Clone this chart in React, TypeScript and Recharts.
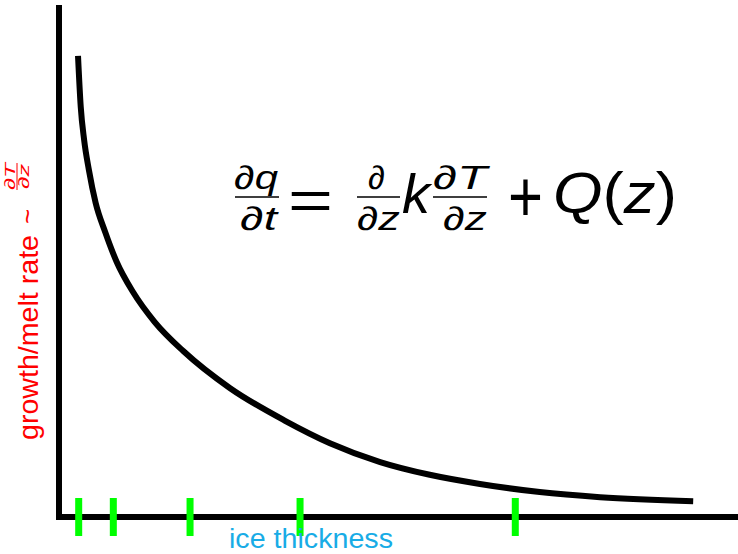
import { ComposedChart, Line, Scatter, XAxis, YAxis, ReferenceLine } from 'recharts';

// ice thickness (arbitrary units) vs growth/melt rate
const thickness = [0.28, 0.32, 0.37, 0.44, 0.54, 0.68, 0.85, 1.09, 1.41, 1.83, 2.52, 3.33, 3.99, 4.73, 5.46, 6.2, 7.08, 7.97, 9.34];
const rate = [9.06, 8.06, 7.41, 6.82, 6.17, 5.6, 5.01, 4.42, 3.83, 3.26, 2.53, 1.89, 1.45, 1.08, 0.83, 0.65, 0.49, 0.39, 0.31];

// sample thicknesses marked along the axis
const markers = [0.29, 0.8, 1.93, 3.55, 6.72];

const curve = thickness.map((x, i) => ({ x, y: rate[i] }));
const markerData = markers.map((x) => ({ x, y: 0 }));

const FONT = '"Liberation Sans", Arial, Helvetica, sans-serif';

const Marker = (props: any) => (
    <rect x={props.cx - 3.5} y={props.cy - 19} width={7} height={38} fill="#00ff00" />
);

function Equation() {
    const num = 189;
    const den = 230;
    const bar = 197;
    return (
        <g fontFamily={FONT} fill="#000">
            {/* dq/dt */}
            <text x={234} y={num} fontSize={33} textLength={44} lengthAdjust="spacingAndGlyphs">
                ∂<tspan fontStyle="italic">q</tspan>
            </text>
            <rect x={235} y={bar - 0.75} width={44} height={1.5} />
            <text x={240} y={den} fontSize={33} textLength={37} lengthAdjust="spacingAndGlyphs">
                ∂<tspan fontStyle="italic">t</tspan>
            </text>
            <text x={288} y={219} fontSize={56} textLength={45} lengthAdjust="spacingAndGlyphs">=</text>
            {/* d/dz k dT/dz */}
            <text x={368} y={num} fontSize={33} textLength={17} lengthAdjust="spacingAndGlyphs">∂</text>
            <rect x={357} y={bar - 0.75} width={43} height={1.5} />
            <text x={357} y={den} fontSize={33} textLength={43} lengthAdjust="spacingAndGlyphs">
                ∂<tspan fontStyle="italic">z</tspan>
            </text>
            <text x={402} y={213} fontSize={56} fontStyle="italic" textLength={28} lengthAdjust="spacingAndGlyphs">k</text>
            <text x={433} y={num} fontSize={33} textLength={54} lengthAdjust="spacingAndGlyphs">
                ∂<tspan fontStyle="italic">T</tspan>
            </text>
            <rect x={433} y={bar - 0.75} width={54} height={1.5} />
            <text x={443} y={den} fontSize={33} textLength={44} lengthAdjust="spacingAndGlyphs">
                ∂<tspan fontStyle="italic">z</tspan>
            </text>
            <text x={508} y={221} fontSize={72} textLength={35} lengthAdjust="spacingAndGlyphs">+</text>
            <text x={553} y={213} fontSize={58} textLength={124} lengthAdjust="spacingAndGlyphs">
                <tspan fontStyle="italic">Q</tspan>(<tspan fontStyle="italic">z</tspan>)
            </text>
        </g>
    );
}

function Labels() {
    return (
        <g fontFamily={FONT}>
            <g transform="translate(38, 440) rotate(-90)" fill="#ff0000">
                <text x={0} y={0} fontSize={28} textLength={205} lengthAdjust="spacingAndGlyphs">
                    growth/melt rate
                </text>
                <text x={216} y={-2} fontSize={26}>~</text>
                <text x={250} y={-23} fontSize={15} textLength={27} lengthAdjust="spacingAndGlyphs">
                    ∂<tspan fontStyle="italic">T</tspan>
                </text>
                <rect x={250} y={-21.5} width={27} height={1} />
                <text x={251} y={-9} fontSize={15} textLength={25} lengthAdjust="spacingAndGlyphs">
                    ∂<tspan fontStyle="italic">z</tspan>
                </text>
            </g>
            <text x={229} y={548} fontSize={27} fill="#18ace6" textLength={164} lengthAdjust="spacingAndGlyphs">
                ice thickness
            </text>
        </g>
    );
}

export default function App() {
    return (
        <div style={{ position: 'absolute', left: 0, top: 0, width: 738, height: 554, background: '#fff' }}>
            <ComposedChart width={738} height={554} margin={{ top: 8, right: 0, bottom: 37, left: 59 }}>
                <XAxis type="number" dataKey="x" domain={[0, 10]} hide />
                <YAxis type="number" dataKey="y" domain={[0, 10]} hide />
                {/* heavy black axes */}
                <ReferenceLine x={0} stroke="#000" strokeWidth={6} strokeLinecap="square" />
                <ReferenceLine y={0} stroke="#000" strokeWidth={6} strokeLinecap="square" />
                <Line
                    data={curve}
                    dataKey="y"
                    type="monotone"
                    stroke="#000"
                    strokeWidth={6}
                    dot={false}
                    isAnimationActive={false}
                />
                <Scatter data={markerData} dataKey="y" shape={Marker} isAnimationActive={false} />
            </ComposedChart>
            <svg
                width={738}
                height={554}
                style={{ position: 'absolute', left: 0, top: 0, pointerEvents: 'none' }}
            >
                <Equation />
                <Labels />
            </svg>
        </div>
    );
}
